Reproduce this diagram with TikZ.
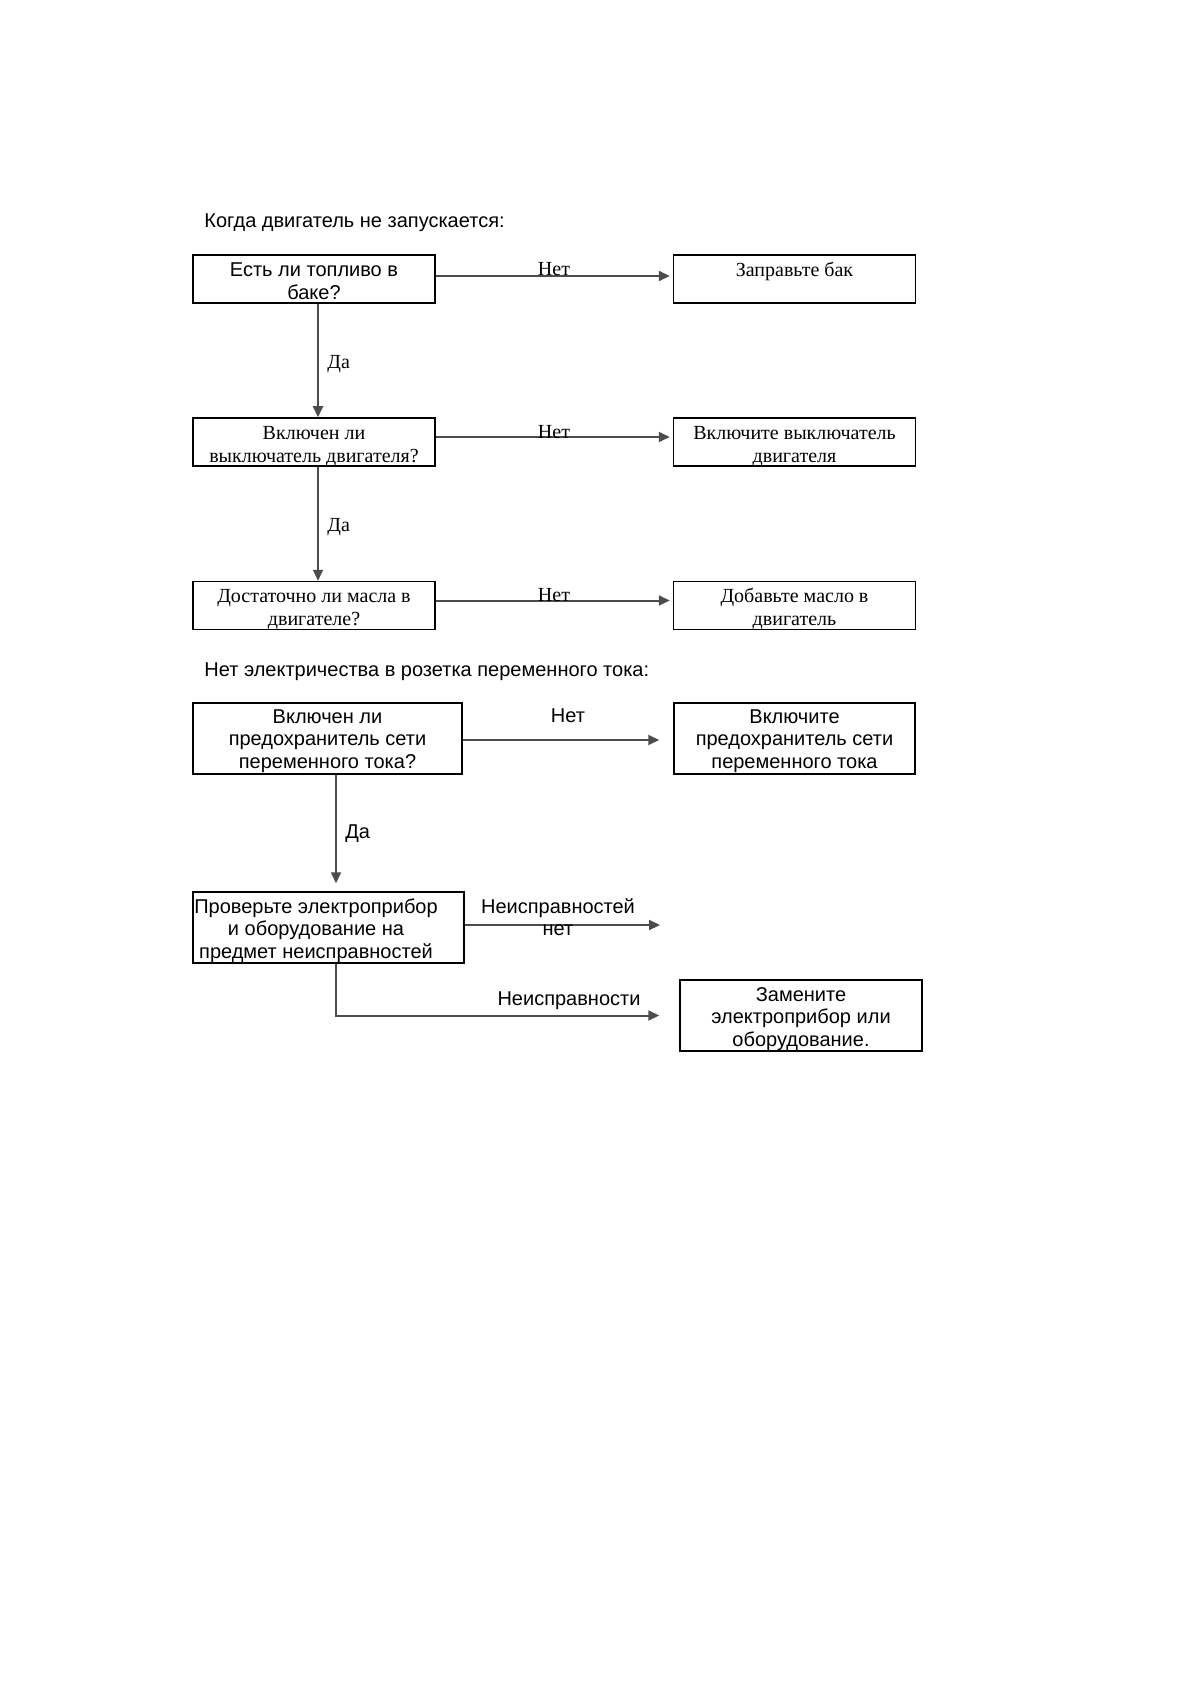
\documentclass[tikz,border=0pt]{standalone}
\usepackage{fontspec}
\setmainfont{Liberation Serif}
\newfontfamily\ars{Liberation Sans}
\newfontfamily\tnr{Liberation Serif}
\usetikzlibrary{arrows.meta}
\newcommand\mlines[1]{\begin{tabular}[t]{@{}c@{}}#1\end{tabular}}
\begin{document}
\begin{tikzpicture}[x=0.5pt,y=-0.5pt,
  box/.style={draw=black,line width=0.75pt,inner sep=0pt},
  boxA/.style={box,minimum width=121pt,minimum height=24pt},
  boxC/.style={box,minimum width=135pt,minimum height=35.5pt},
  sf/.style={font=\ars\fontsize{10}{11.4}\selectfont},
  rm/.style={font=\tnr\fontsize{10}{11.5}\selectfont},
  txt/.style={inner sep=0pt,anchor=base},
  arr/.style={draw=black!70,line width=1pt,-{Triangle[length=5.5pt,width=5pt]}},
  lbl/.style={inner sep=0pt,anchor=base}]
\useasboundingbox[fill=white] (0,0) rectangle (1191,1684);

% Section 1
\node[sf,anchor=base west,inner sep=0pt] (t1) at (204,228) {Когда двигатель не запускается:};

\node[boxA] (a1) at (314,279) {};
\node[sf,txt] (a1t) at (314,277) {\mlines{Есть ли топливо в\\баке?}};
\node[boxA] (b1) at (794.5,279) {};
\node[rm,txt] (b1t) at (794.5,277) {\mlines{Заправьте бак}};
\node[boxA] (a2) at (314,442) {};
\node[rm,txt] (a2t) at (314,439) {\mlines{Включен ли\\выключатель двигателя?}};
\node[boxA] (b2) at (794.5,442) {};
\node[rm,txt] (b2t) at (794.5,439) {\mlines{Включите выключатель\\двигателя}};
\node[boxA] (a3) at (314,605.5) {};
\node[rm,txt] (a3t) at (314,602) {\mlines{Достаточно ли масла в\\двигателе?}};
\node[boxA] (b3) at (794.5,605.5) {};
\node[rm,txt] (b3t) at (794.5,602) {\mlines{Добавьте масло в\\двигатель}};

\draw[arr,shorten >=1.5pt] ([yshift=1.5pt]a1.east) -- ([yshift=1.5pt]b1.west);
\draw[arr,shorten >=1.5pt] ([yshift=2.5pt]a2.east) -- ([yshift=2.5pt]b2.west);
\draw[arr,shorten >=1.5pt] ([yshift=2.5pt]a3.east) -- ([yshift=2.5pt]b3.west);
\node[rm,lbl] (n1) at (554,276) {Нет};
\node[rm,lbl] (n2) at (554,438) {Нет};
\node[rm,lbl] (n3) at (554,601) {Нет};

\draw[arr] ([xshift=2pt]a1.south) -- ([xshift=2pt]a2.north);
\draw[arr] ([xshift=2pt]a2.south) -- ([xshift=2pt]a3.north);
\node[rm,lbl,anchor=base west] (d1) at (327,369) {Да};
\node[rm,lbl,anchor=base west] (d2) at (327,531) {Да};

% Section 2
\node[sf,anchor=base west,inner sep=0pt] (t2) at (204,676) {Нет электричества в розетка переменного тока:};

\node[boxC,minimum width=134.5pt] (c1) at (327.5,738.5) {};
\node[sf,txt] (c1t) at (327.5,723) {\mlines{Включен ли\\предохранитель сети\\переменного тока?}};
\node[boxC,minimum width=120.5pt] (d1b) at (794.5,738.5) {};
\node[sf,txt] (d1t) at (794.5,723) {\mlines{Включите\\предохранитель сети\\переменного тока}};
\node[boxC,minimum width=135.5pt] (c2) at (328.5,927.5) {};
\node[sf,txt] (c2t) at (316,913) {\mlines{Проверьте электроприбор\\и оборудование на\\предмет неисправностей}};
\node[boxC,minimum width=121pt] (e) at (801,1015.5) {};
\node[sf,txt] (et) at (801,1001) {\mlines{Замените\\электроприбор или\\оборудование.}};

\draw[arr,shorten >=7pt] ([yshift=-0.75pt]c1.east) -- ([yshift=-0.75pt]d1b.west);
\node[sf,lbl] (n4) at (568,722) {Нет};
\draw[arr,shorten >=4pt] ([xshift=4.25pt]c1.south) -- ([xshift=3.75pt]c2.north);
\node[sf,lbl,anchor=base west] (d3) at (345,838) {Да};

\coordinate (free) at (660,925);
\draw[arr] ([yshift=1.25pt]c2.east) -- (free);
\node[sf,txt] (n5) at (558,913) {\mlines{Неисправностей\\нет}};
\draw[arr,shorten >=10pt] ([xshift=3.75pt]c2.south) |- (e.west);
\node[sf,lbl] (n6) at (569,1005) {Неисправности};
\end{tikzpicture}
\end{document}
